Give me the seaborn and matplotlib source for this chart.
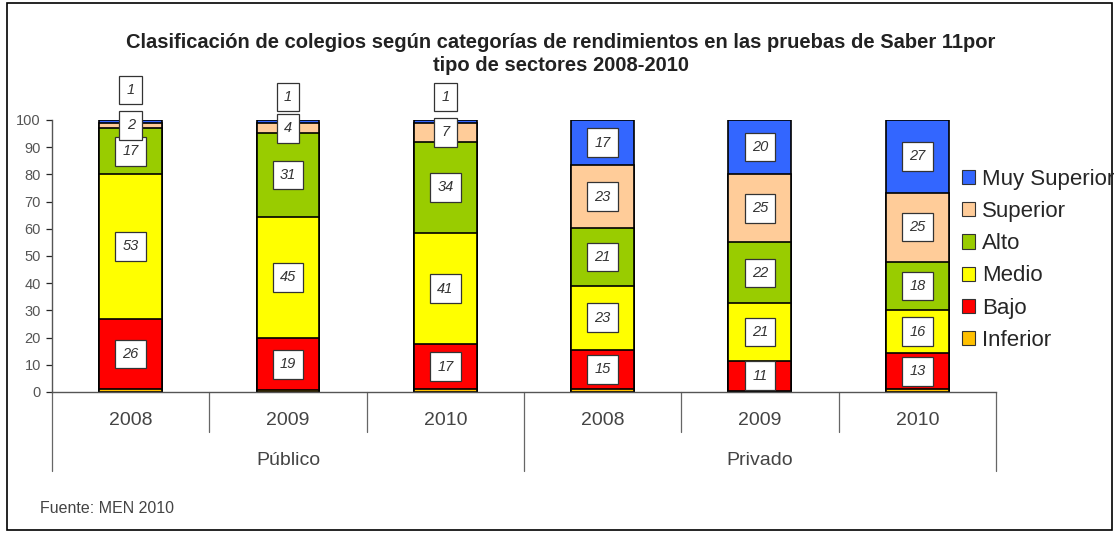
import numpy as np
import matplotlib
matplotlib.use("Agg")
import matplotlib.pyplot as plt
from matplotlib.patches import Patch, Rectangle
from matplotlib.transforms import blended_transform_factory
import seaborn as sns

# --- data (percent of schools per category) ---
groups = ["Público", "Privado"]
years = ["2008", "2009", "2010"]
bar_keys = [f"{g} {y}" for g in groups for y in years]

categories = ["Inferior", "Bajo", "Medio", "Alto", "Superior", "Muy Superior"]
inferior = [1.0, 0.6, 1.0, 1.0, 0.5, 1.0]
bajo = [26.0, 19.2, 16.6, 14.6, 11.0, 13.2]
medio = [53.0, 44.7, 40.8, 23.4, 21.1, 15.9]
alto = [17.0, 30.6, 33.6, 21.2, 22.4, 17.8]
superior = [2.0, 3.7, 6.8, 23.2, 25.0, 25.4]
muy_superior = [1.0, 1.2, 1.2, 16.6, 20.0, 26.7]

colors = {
    "Inferior": "#FFC000",
    "Bajo": "#FF0000",
    "Medio": "#FFFF00",
    "Alto": "#99CC00",
    "Superior": "#FFCC99",
    "Muy Superior": "#3366FF",
}

values = np.array([inferior, bajo, medio, alto, superior, muy_superior])
cum = values.cumsum(axis=0)

sns.set_style("white")
plt.rcParams["font.family"] = ["Liberation Sans", "DejaVu Sans"]

fig = plt.figure(figsize=(11.17, 5.36), dpi=100)
ax = fig.add_axes([0.0466, 0.2687, 0.845, 0.5075])

# stacked bars: draw cumulative totals from the top category down
for i in range(len(categories) - 1, -1, -1):
    sns.barplot(x=bar_keys, y=cum[i], order=bar_keys, color=colors[categories[i]],
                saturation=1, width=0.4, edgecolor="black", linewidth=1.2,
                errorbar=None, ax=ax)

# value labels
box = dict(boxstyle="square,pad=0.5", facecolor="white", edgecolor="#333333", lw=0.9)
mini_y = [111, 108.5, 108.5]
for i, cat in enumerate(categories):
    if cat == "Inferior":
        continue
    for j in range(len(bar_keys)):
        v = values[i, j]
        y = cum[i, j] - v / 2
        if cat == "Muy Superior" and v < 5:
            y = mini_y[j % 3]
        ax.text(j, y, f"{v:.0f}", ha="center", va="center", fontsize=10.5,
                style="italic", color="#333333", bbox=box, clip_on=False, zorder=5)

ax.set_ylim(0, 100)
ax.set_xlim(-0.5, 5.5)
ax.set_yticks(range(0, 101, 10))
ax.tick_params(axis="y", labelsize=10.5, labelcolor="#555555", length=4, width=0.9,
               direction="out", left=True, pad=4)
ax.set_xticks([])
ax.set_xlabel("")
ax.set_ylabel("")
sns.despine(ax=ax, top=True, right=True)
for s in ("left", "bottom"):
    ax.spines[s].set_color("#555555")
    ax.spines[s].set_linewidth(1.0)

# two-level category axis
trans = blended_transform_factory(ax.transData, ax.transAxes)
for x in [0.5, 1.5, 3.5, 4.5]:
    ax.plot([x, x], [0, -0.147], transform=trans, color="#666666", lw=0.9, clip_on=False)
for x in [-0.5, 2.5, 5.5]:
    ax.plot([x, x], [0, -0.29], transform=trans, color="#666666", lw=0.9, clip_on=False)
for j, key in enumerate(bar_keys):
    ax.text(j, -0.105, key.split()[1], transform=trans, ha="center", va="center",
            fontsize=14, color="#444444")
for g, x in zip(groups, [1, 4]):
    ax.text(x, -0.252, g, transform=trans, ha="center", va="center",
            fontsize=14, color="#444444")

fig.text(0.502, 0.899, "Clasificación de colegios según categorías de rendimientos en las pruebas de Saber 11por\ntipo de sectores 2008-2010",
         ha="center", va="center", fontsize=14.5, fontweight="bold", color="#222222",
         linespacing=1.25)

handles = [Patch(facecolor=colors[c], edgecolor="#333333", lw=0.8, label=c)
           for c in categories[::-1]]
fig.legend(handles=handles, loc="upper left", bbox_to_anchor=(0.853, 0.701),
           frameon=False, fontsize=16, handlelength=0.6, handleheight=0.6,
           handletextpad=0.3, labelspacing=0.5, borderaxespad=0)

fig.text(0.036, 0.052, "Fuente: MEN 2010", fontsize=11.5, color="#444444", va="center")

fig.patches.append(Rectangle((0.0065, 0.011), 0.989, 0.984, transform=fig.transFigure,
                             fill=False, edgecolor="black", lw=1.2))

fig.savefig("out.png", dpi=100)
